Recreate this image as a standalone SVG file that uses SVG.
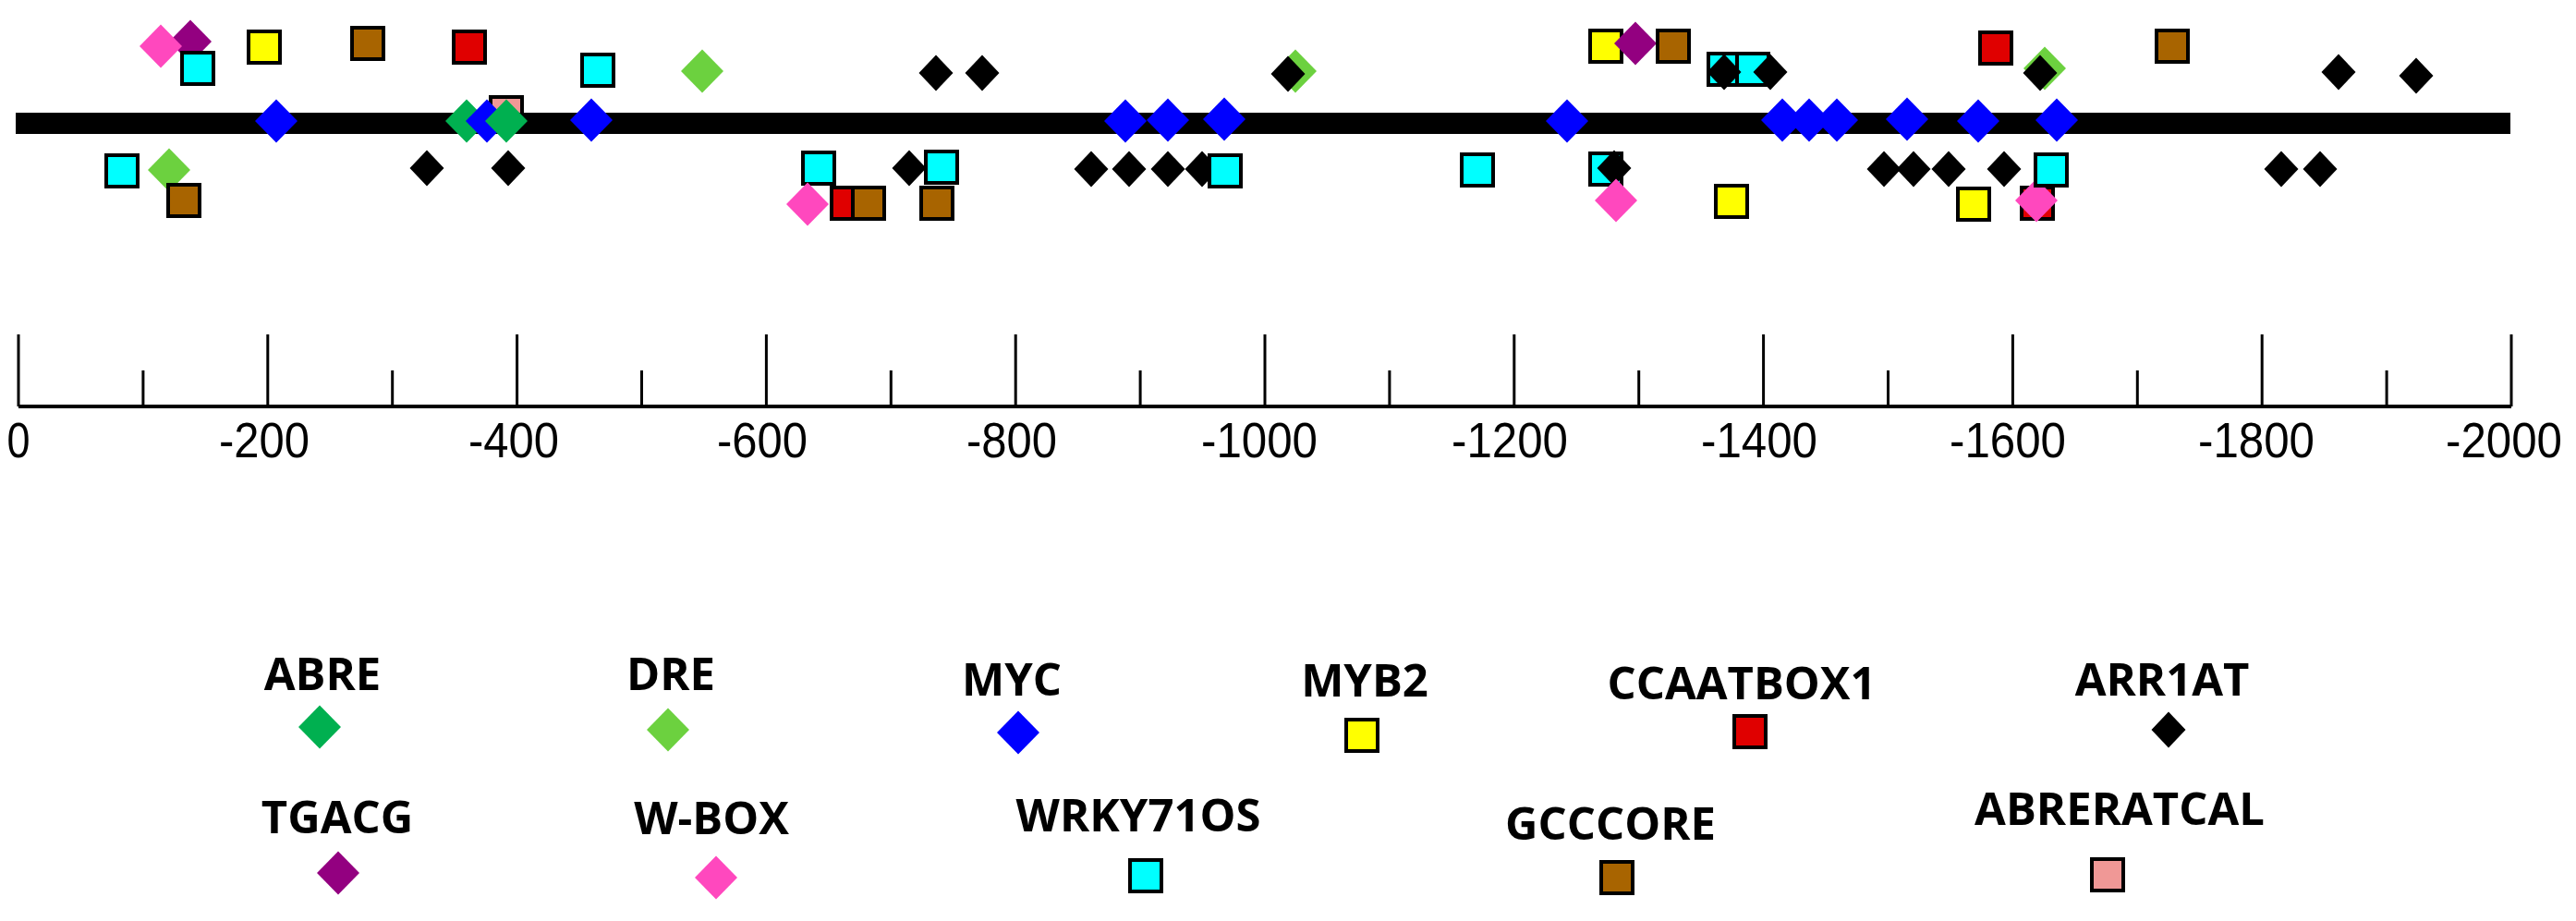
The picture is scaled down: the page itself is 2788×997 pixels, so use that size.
<svg xmlns="http://www.w3.org/2000/svg" xmlns:xlink="http://www.w3.org/1999/xlink" width="2788" height="997" viewBox="0 0 2788 997">
<style>
.abre{fill:#00B050}.dre{fill:#6CD13F}.myc{fill:#0000FF}.myb{fill:#FFFF00}.ccaat{fill:#E00000}.arr{fill:#000000}
.tgacg{fill:#930080}.wbox{fill:#FF48BE}.wrky{fill:#00FFFF}.gcc{fill:#A86400}.abrer{fill:#F09896}
.lbl{font-family:"Open Sans","Liberation Sans",Arial,sans-serif;font-weight:bold;font-size:49px;fill:#000;text-anchor:middle}
.ax{font-family:"Liberation Sans",Arial,sans-serif;font-size:53px;fill:#000;text-anchor:middle}
</style>
<defs>
<path id="dia" d="M0,-23.5 L23,0 L0,23.5 L-23,0Z"/>
<path id="bd" d="M0,-19.5 L18.5,0 L0,19.5 L-18.5,0Z" fill="#000"/>
<rect id="sq" x="-17" y="-17" width="34" height="34" stroke="#000" stroke-width="4"/>
</defs>
<rect width="2788" height="997" fill="#fff"/>

<g id="track">
<use href="#sq" class="abrer" x="548" y="122"/>
<rect id="bar" x="17" y="122" width="2700" height="23" fill="#000"/>
</g>

<g id="upper-markers">
<use href="#dia" class="tgacg" x="206" y="45"/>
<use href="#dia" class="wbox" x="174" y="50"/>
<use href="#sq" class="wrky" x="214" y="74"/>
<use href="#sq" class="myb" x="286" y="51"/>
<use href="#sq" class="gcc" x="398" y="47"/>
<use href="#sq" class="ccaat" x="508" y="51"/>
<use href="#sq" class="wrky" x="647" y="76"/>
<use href="#dia" class="dre" x="760" y="77"/>
<use href="#bd" x="1013" y="79"/>
<use href="#bd" x="1063" y="79"/>
<use href="#dia" class="dre" x="1402" y="77"/>
<use href="#bd" x="1394" y="80"/>
<use href="#sq" class="myb" x="1738" y="50"/>
<use href="#dia" class="tgacg" x="1770" y="47"/>
<use href="#sq" class="gcc" x="1811" y="50"/>
<use href="#sq" class="wrky" x="1866" y="75"/>
<use href="#sq" class="wrky" x="1897" y="75"/>
<use href="#bd" x="1866" y="78"/>
<use href="#bd" x="1916" y="78"/>
<use href="#sq" class="ccaat" x="2160" y="52"/>
<use href="#dia" class="dre" x="2213" y="74"/>
<use href="#bd" x="2208" y="79"/>
<use href="#sq" class="gcc" x="2351" y="50"/>
<use href="#bd" x="2531" y="78"/>
<use href="#bd" x="2615" y="82"/>
</g>

<g id="on-track-markers">
<use href="#dia" class="abre" x="505" y="131"/>
<use href="#dia" class="myc" x="299" y="131"/>
<use href="#dia" class="myc" x="527" y="131"/>
<use href="#dia" class="abre" x="548" y="131"/>
<use href="#dia" class="myc" x="640" y="130"/>
<use href="#dia" class="myc" x="1218" y="131"/>
<use href="#dia" class="myc" x="1264" y="130"/>
<use href="#dia" class="myc" x="1325" y="129"/>
<use href="#dia" class="myc" x="1696" y="131"/>
<use href="#dia" class="myc" x="1929" y="130"/>
<use href="#dia" class="myc" x="1958" y="130"/>
<use href="#dia" class="myc" x="1988" y="130"/>
<use href="#dia" class="myc" x="2064" y="129"/>
<use href="#dia" class="myc" x="2141" y="131"/>
<use href="#dia" class="myc" x="2226" y="130"/>
</g>

<g id="lower-markers">
<use href="#sq" class="wrky" x="132" y="185"/>
<use href="#dia" class="dre" x="183" y="184"/>
<use href="#sq" class="gcc" x="199" y="217"/>
<use href="#bd" x="462" y="182"/>
<use href="#bd" x="550" y="182"/>
<use href="#sq" class="wrky" x="886" y="182"/>
<use href="#dia" class="wbox" x="874" y="221"/>
<use href="#sq" class="ccaat" x="917" y="220"/>
<use href="#sq" class="gcc" x="940" y="220"/>
<use href="#bd" x="984" y="182"/>
<use href="#sq" class="wrky" x="1019" y="181"/>
<use href="#sq" class="gcc" x="1014" y="220"/>
<use href="#bd" x="1181" y="183"/>
<use href="#bd" x="1222" y="183"/>
<use href="#bd" x="1264" y="183"/>
<use href="#bd" x="1301" y="183"/>
<use href="#sq" class="wrky" x="1326" y="185"/>
<use href="#sq" class="wrky" x="1599" y="184"/>
<use href="#sq" class="wrky" x="1738" y="183"/>
<use href="#bd" x="1747" y="182"/>
<use href="#dia" class="wbox" x="1749" y="217"/>
<use href="#sq" class="myb" x="1874" y="218"/>
<use href="#bd" x="2039" y="183"/>
<use href="#bd" x="2071" y="183"/>
<use href="#bd" x="2109" y="183"/>
<use href="#bd" x="2169" y="183"/>
<use href="#sq" class="myb" x="2136" y="221"/>
<use href="#sq" class="ccaat" x="2205" y="220"/>
<use href="#dia" class="wbox" x="2204" y="217"/>
<use href="#sq" class="wrky" x="2220" y="184"/>
<use href="#bd" x="2469" y="183"/>
<use href="#bd" x="2511" y="183"/>
</g>

<g id="scale">
<path d="M20,440 H2718" stroke="#000" stroke-width="4" fill="none"/>
<path stroke="#000" stroke-width="3" fill="none" d="M20,362V440 M289.8,362V440 M559.6,362V440 M829.4,362V440 M1099.2,362V440 M1369,362V440 M1638.8,362V440 M1908.6,362V440 M2178.4,362V440 M2448.2,362V440 M2718,362V440 M154.9,401V440 M424.7,401V440 M694.5,401V440 M964.3,401V440 M1234.1,401V440 M1503.9,401V440 M1773.7,401V440 M2043.5,401V440 M2313.3,401V440 M2583.1,401V440"/>
<text class="ax" x="20" y="495" textLength="25" lengthAdjust="spacingAndGlyphs">0</text>
<text class="ax" x="286" y="495" textLength="98" lengthAdjust="spacingAndGlyphs">-200</text>
<text class="ax" x="556" y="495" textLength="98" lengthAdjust="spacingAndGlyphs">-400</text>
<text class="ax" x="825" y="495" textLength="98" lengthAdjust="spacingAndGlyphs">-600</text>
<text class="ax" x="1095" y="495" textLength="98" lengthAdjust="spacingAndGlyphs">-800</text>
<text class="ax" x="1363" y="495" textLength="126" lengthAdjust="spacingAndGlyphs">-1000</text>
<text class="ax" x="1634" y="495" textLength="126" lengthAdjust="spacingAndGlyphs">-1200</text>
<text class="ax" x="1904" y="495" textLength="126" lengthAdjust="spacingAndGlyphs">-1400</text>
<text class="ax" x="2173" y="495" textLength="126" lengthAdjust="spacingAndGlyphs">-1600</text>
<text class="ax" x="2442" y="495" textLength="126" lengthAdjust="spacingAndGlyphs">-1800</text>
<text class="ax" x="2710" y="495" textLength="126" lengthAdjust="spacingAndGlyphs">-2000</text>
</g>

<g id="legend">
<g id="leg-abre"><text class="lbl" x="349" y="747">ABRE</text><use href="#dia" class="abre" x="346" y="787"/></g>
<g id="leg-dre"><text class="lbl" x="726" y="747">DRE</text><use href="#dia" class="dre" x="723" y="790"/></g>
<g id="leg-myc"><text class="lbl" x="1095" y="753">MYC</text><use href="#dia" class="myc" x="1102" y="793"/></g>
<g id="leg-myb2"><text class="lbl" x="1477" y="754">MYB2</text><use href="#sq" class="myb" x="1474" y="796"/></g>
<g id="leg-ccaat"><text class="lbl" x="1885" y="757">CCAATBOX1</text><use href="#sq" class="ccaat" x="1894" y="792"/></g>
<g id="leg-arr1at"><text class="lbl" x="2340" y="753">ARR1AT</text><use href="#bd" x="2347" y="790"/></g>
<g id="leg-tgacg"><text class="lbl" x="365" y="902">TGACG</text><use href="#dia" class="tgacg" x="366" y="945"/></g>
<g id="leg-wbox"><text class="lbl" x="770" y="903">W-BOX</text><use href="#dia" class="wbox" x="775" y="950"/></g>
<g id="leg-wrky"><text class="lbl" x="1232" y="900">WRKY71OS</text><use href="#sq" class="wrky" x="1240" y="948"/></g>
<g id="leg-gcc"><text class="lbl" x="1743" y="909">GCCCORE</text><use href="#sq" class="gcc" x="1750" y="950"/></g>
<g id="leg-abrer"><text class="lbl" x="2294" y="893">ABRERATCAL</text><use href="#sq" class="abrer" x="2281" y="947"/></g>
</g>

<g id="connectors"></g>
</svg>
